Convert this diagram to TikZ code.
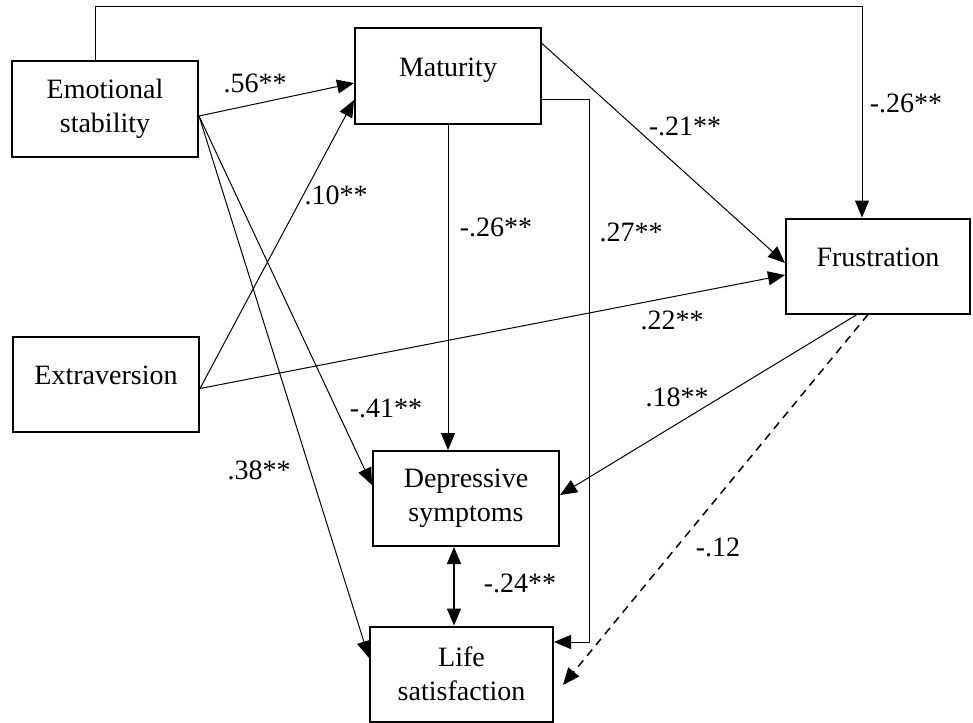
\documentclass[tikz,border=0pt]{standalone}
\usepackage{fontspec}
\setmainfont{Liberation Serif}
\usetikzlibrary{arrows.meta,calc}

\begin{document}
\begin{tikzpicture}[x=0.5pt, y=-0.5pt,
    every node/.style={font=\fontsize{14}{17}\selectfont},
    var/.style={draw, line width=1pt, minimum width=93pt, minimum height=47.5pt, inner sep=0pt, align=center},
    single/.style={var, text height=0.7em, text depth=0.7em},
    link/.style={line width=0.5pt, -{Triangle[length=8.5pt,width=7pt]}},
    both/.style={line width=0.7pt, {Triangle[length=8.5pt,width=7pt]}-{Triangle[length=8.5pt,width=7pt]}},
    coef/.style={inner sep=0pt}]
  \useasboundingbox (0,0) rectangle (973,722);

  % variables
  \node[var] (es) at (105,109) {Emotional\\stability};
  \node[single] (mat) at (448,76) {Maturity};
  \node[single, minimum width=92pt] (fru) at (878,266) {Frustration};
  \node[single] (ext) at (106,384.5) {Extraversion};
  \node[var] (ds) at (466,498.5) {Depressive\\symptoms};
  \node[var, minimum width=91.5pt] (ls) at (461.5,674) {Life\\satisfaction};

  % paths
  \draw[link] ($(es.north)+(-10,0)$) -- ++(0,-54) -| ($(fru.north)+(-16,0)$);
  \draw[link] ($(es.east)+(0,7)$) -- ($(mat.west)+(0,7)$);
  \draw[link] ($(ext.east)+(0,4)$) -- ($(mat.west)+(0,24)$);
  \draw[link] ($(es.east)+(0,7)$) -- ($(ds.west)+(0,-13.5)$);
  \draw[link] ($(es.east)+(0,7)$) -- ($(ls.west)+(0,-16)$);
  \draw[link] (mat.south) -- (mat.south |- ds.north);
  \draw[link] ($(mat.east)+(0,24)$) -| ($(ls.east)+(35,-32)$) -- ($(ls.east)+(0,-32)$);
  \draw[link] ($(mat.north east)+(0,16)$) -- ($(fru.west)+(0,-3)$);
  \draw[link] ($(ext.east)+(0,4)$) -- ($(fru.west)+(0,9)$);
  \draw[link] ($(fru.south)+(-21,0)$) -- ($(ds.east)+(0,-3.5)$);
  \draw[link, line width=0.75pt, dash pattern=on 4pt off 3pt] ($(fru.south)+(-10,0)$) -- ($(ls.east)+(9,11)$);
  \draw[both] ($(ds.south)+(-12,0)$) coordinate (dsb) -- (dsb |- ls.north);

  % coefficients
  \node[coef] (c1) at (906,103) {-.26**};
  \node[coef] (c2) at (255,83) {.56**};
  \node[coef] (c3) at (336,195) {.10**};
  \node[coef] (c4) at (386,408) {-.41**};
  \node[coef] (c5) at (259,470) {.38**};
  \node[coef] (c6) at (496,227) {-.26**};
  \node[coef] (c7) at (631,232) {.27**};
  \node[coef] (c8) at (685,126) {-.21**};
  \node[coef] (c9) at (672,320) {.22**};
  \node[coef] (c10) at (677,397) {.18**};
  \node[coef] (c11) at (718,547) {-.12};
  \node[coef] (c12) at (520,583) {-.24**};
\end{tikzpicture}
\end{document}
